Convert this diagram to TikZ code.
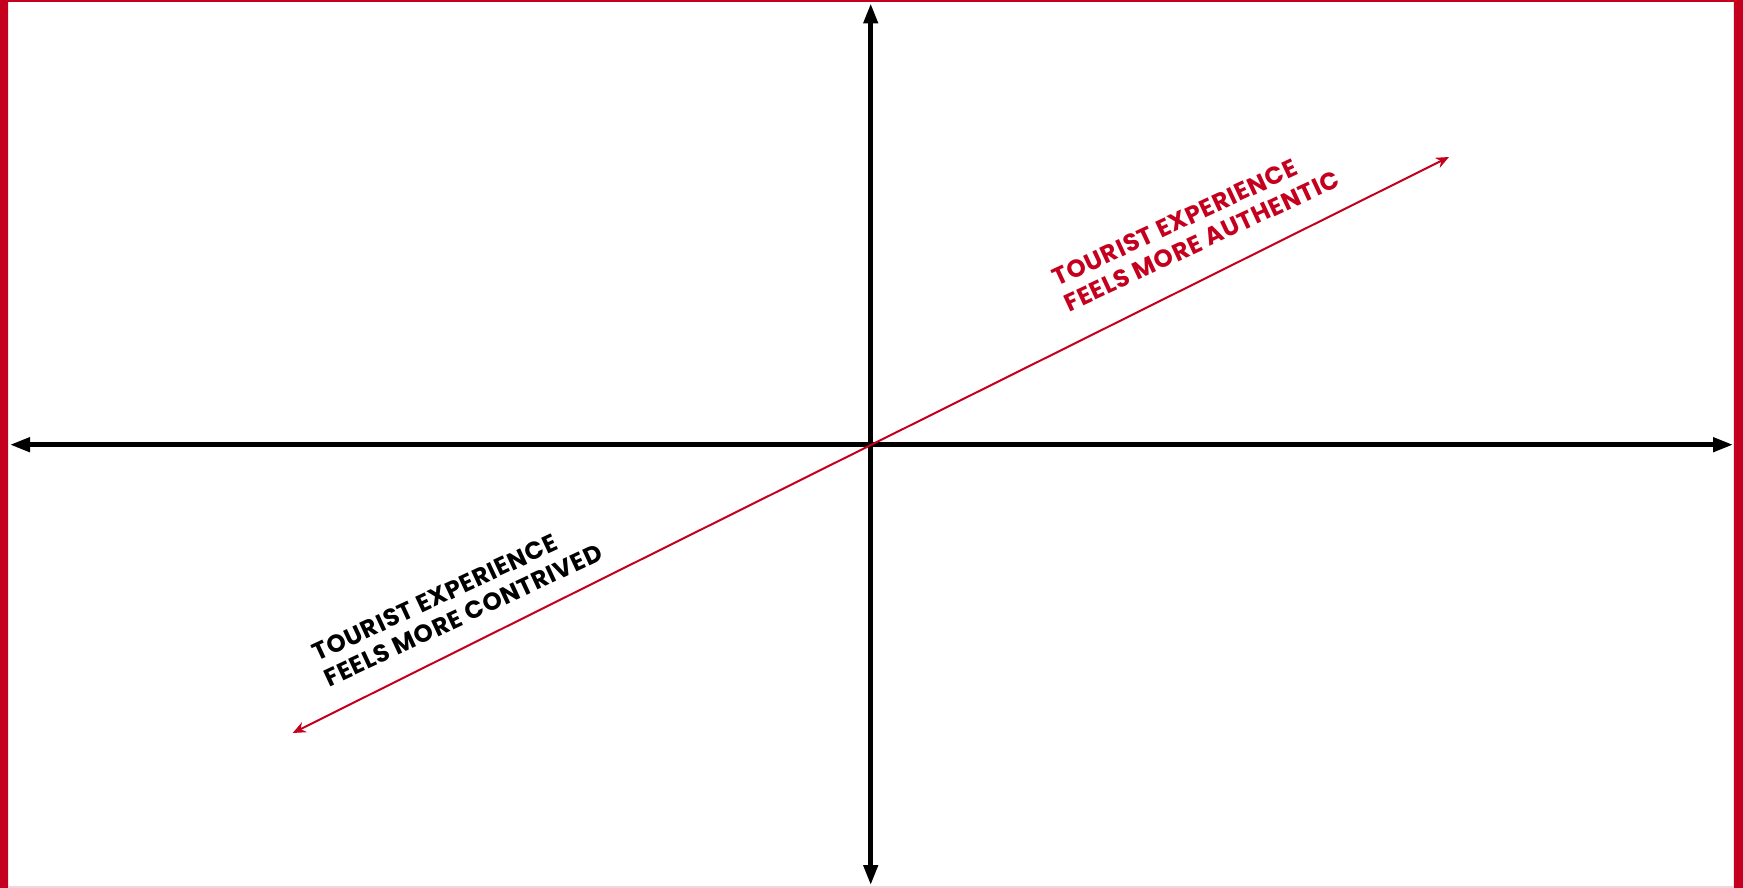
\documentclass[tikz,border=0pt]{standalone}
\usepackage{fontspec}
\newfontfamily\polefont{Poppins}[LetterSpace=3]
\usetikzlibrary{arrows.meta}
\definecolor{brandred}{RGB}{196,0,30}
\definecolor{edgepink}{RGB}{240,214,220}
\tikzset{
  axis/.style={{Triangle[length=20pt,width=14pt]}-{Triangle[length=20pt,width=14pt]}, line width=4.5pt, black},
  trend/.style={{Stealth[length=13pt,width=11pt]}-{Stealth[length=13pt,width=11pt]}, line width=2pt, brandred},
  pole/.style={font=\polefont\bfseries\fontsize{24.5}{28}\selectfont, align=left,
               inner sep=0pt, rotate=25, anchor=north west},
}

\begin{document}
\begin{tikzpicture}[x=1pt,y=-1pt]
        \useasboundingbox (0,0) rectangle (1743,888);
        \fill[brandred] (0,0) rectangle (1743,888);
        \fill[white] (8,2) rectangle (1734,886);
        \fill[edgepink] (8,886) rectangle (1734,888);
        \draw[black!10, line width=1pt] (8.5,2) -- (8.5,886);
        \draw[black!10, line width=1pt] (1733.5,2) -- (1733.5,886);

        \coordinate (origin) at (870.7,444.7);
        \coordinate (west)   at (10,444.7);
        \coordinate (east)   at (1733,444.7);
        \coordinate (north)  at (870.7,3.5);
        \coordinate (south)  at (870.7,885);
        \coordinate (auth)   at (1449,157);
        \coordinate (contr)  at (292.7,733);

        \draw[axis] (west) -- (east);
        \draw[axis] (north) -- (south);
        \draw[trend] (contr) -- (auth);

        \node[pole, text=brandred] (authentic) at (1050,271) {TOURIST EXPERIENCE\\FEELS MORE AUTHENTIC};
        \node[pole] (contrived) at (310,646) {TOURIST EXPERIENCE\\FEELS MORE CONTRIVED};
      \end{tikzpicture}
\end{document}
